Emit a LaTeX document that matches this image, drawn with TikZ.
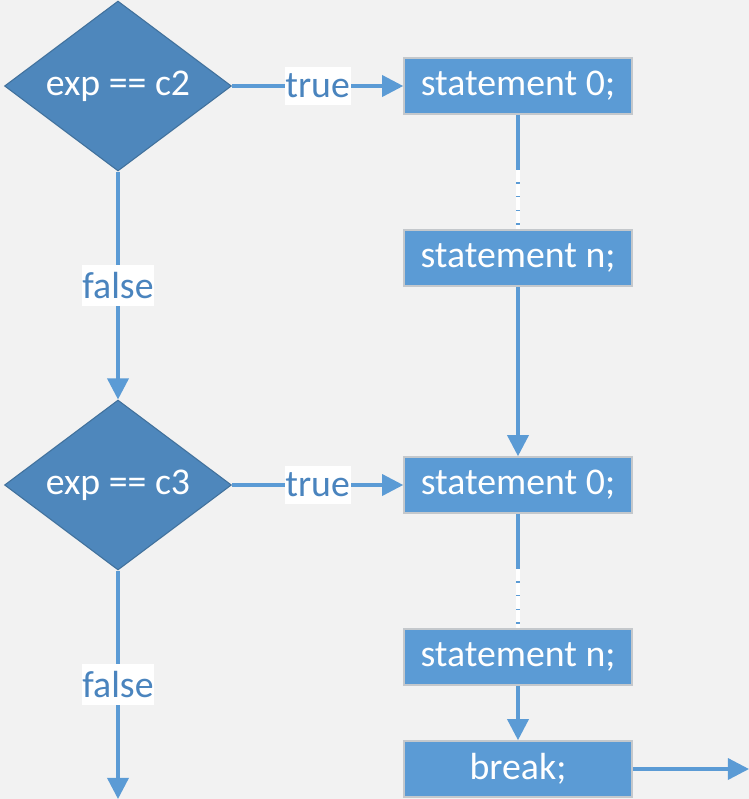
\documentclass[tikz,border=0pt]{standalone}
\usepackage{fontspec}
\setmainfont{Carlito}
\usepackage{xcolor}
\usepackage{tikz}
\usetikzlibrary{positioning, arrows.meta, shapes.geometric}
\definecolor{pagegrey}{HTML}{F2F2F2}
\definecolor{boxblue}{HTML}{5B9BD5}
\definecolor{condblue}{HTML}{4E87BC}
\definecolor{condedge}{HTML}{41719C}
\definecolor{boxedge}{HTML}{C4C8CC}
\definecolor{labelblue}{HTML}{4A84BE}

\begin{document}
\begin{tikzpicture}[x=0.02cm, y=-0.02cm,
    every node/.style={font=\fontsize{21.5}{26}\selectfont},
    cond/.style={diamond, fill=condblue, draw=condedge, line width=0.6pt, text=white,
                 minimum width=4.54cm, minimum height=3.4cm, inner sep=0pt, aspect=1.335},
    stmt/.style={rectangle, fill=boxblue, draw=boxedge, line width=0.9pt, text=white,
                 minimum width=4.56cm, minimum height=1.12cm, inner sep=0pt},
    flow/.style={draw=boxblue, line width=1.9pt},
    arr/.style={flow, -{Triangle[length=12pt, width=12pt]}},
    lbl/.style={fill=white, text=labelblue, inner xsep=0.5pt, inner ysep=4pt},
    gap/.style={draw=white, line width=2.4pt, dash pattern=on 7pt off 0.8pt}]
    \fill[pagegrey] (0,0) rectangle (749,799);
    \useasboundingbox (0,0) rectangle (749,799);

    % conditions
    \node[cond] (c2) at (118,86) {exp == c2};
    \node[cond] (c3) at (118,485) {exp == c3};

    % first case
    \node[stmt] (s0a) at (518,86) {statement 0;};
    \node[stmt] (sna) at (518,258) {statement n;};
    % second case
    \node[stmt] (s0b) at (518,485) {statement 0;};
    \node[stmt] (snb) at (518,657) {statement n;};
    \node[stmt] (brk) at (518,769) {break;};

    \coordinate (da) at (518,170);
    \coordinate (db) at (518,569);
    \coordinate (out) at (749,769);
    \coordinate (down) at (118,799);

    \draw[arr] (c2) -- node[lbl] {true} (s0a);
    \draw[arr] (c3) -- node[lbl] {true} (s0b);
    \draw[arr] (c2) -- node[lbl] {false} (c3);
    \draw[arr] (c3) -- node[lbl] {false} (down);

    \draw[flow] (s0a) -- (sna);
    \draw[gap] (da) -- (sna.north);
    \draw[flow] (s0b) -- (snb);
    \draw[gap] (db) -- (snb.north);

    \draw[arr] (sna) -- (s0b);
    \draw[arr] (snb) -- (brk);
    \draw[arr] (brk) -- (out);
\end{tikzpicture}
\end{document}
